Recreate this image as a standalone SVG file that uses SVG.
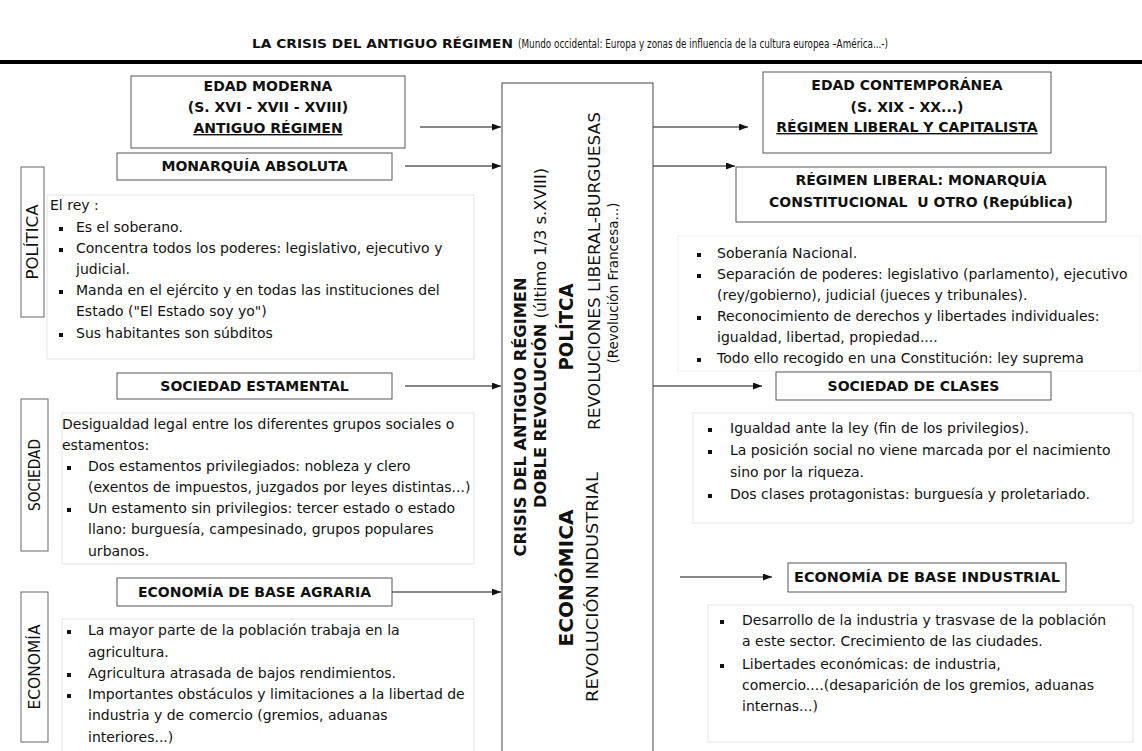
<svg xmlns="http://www.w3.org/2000/svg" width="1142" height="751" viewBox="0 0 1142 751">
<defs>
<style>
text{font-family:"DejaVu Sans","Liberation Sans",sans-serif;fill:#111}
.h{font-size:14px;font-weight:bold;text-anchor:middle}
.t{font-size:14px}
.box{fill:#fff;stroke:#555;stroke-width:1}
.cbox{fill:#fff;stroke:#e3e3e3;stroke-width:1}
.lbl{fill:#fff;stroke:#666;stroke-width:1}
.lt{font-size:15px;text-anchor:middle}
.conn line{stroke:#111;stroke-width:1.2;marker-end:url(#ah)}
.b{fill:#111}
.ct{text-anchor:middle}
</style>
<marker id="ah" markerUnits="userSpaceOnUse" markerWidth="9" markerHeight="7" refX="9" refY="3.5" orient="auto">
<path d="M0,0 L9,3.5 L0,7 z" fill="#111"/>
</marker>
</defs>
<rect width="1142" height="751" fill="#fff"/>

<g id="title">
<text x="252" y="48" font-size="12" font-weight="bold" textLength="261" lengthAdjust="spacingAndGlyphs">LA CRISIS DEL ANTIGUO RÉGIMEN</text>
<text x="518" y="48" font-size="11.5" textLength="370" lengthAdjust="spacingAndGlyphs">(Mundo occidental: Europa y zonas de influencia de la cultura europea –América...-)</text>
<line x1="0" y1="62" x2="1142" y2="62" stroke="#000" stroke-width="4"/>
</g>

<g id="connectors" class="conn">
<line x1="420" y1="127" x2="501" y2="127"/>
<line x1="405" y1="166" x2="501" y2="166"/>
<line x1="405" y1="386" x2="501" y2="386"/>
<line x1="392" y1="592" x2="501" y2="592"/>
<line x1="653" y1="127" x2="748" y2="127"/>
<line x1="653" y1="166" x2="735" y2="166"/>
<line x1="653" y1="386" x2="762" y2="386"/>
<line x1="680" y1="577" x2="772" y2="577"/>
</g>

<g id="edad-moderna">
<rect class="box" x="131" y="76" width="274" height="72"/>
<text class="h" x="268" y="91">EDAD MODERNA</text>
<text class="h" x="268" y="112">(S. XVI - XVII - XVIII)</text>
<text class="h" x="268" y="133" text-decoration="underline">ANTIGUO RÉGIMEN</text>
</g>

<g id="monarquia-absoluta">
<rect class="box" x="117" y="153" width="275" height="27"/>
<text class="h" x="254.5" y="171">MONARQUÍA ABSOLUTA</text>
</g>

<g id="label-politica">
<rect class="lbl" x="21" y="167" width="23" height="150"/>
<text class="lt" transform="translate(38,242) rotate(-90)" textLength="75" lengthAdjust="spacingAndGlyphs">POLÍTICA</text>
</g>

<g id="politica-antiguo">
<rect class="cbox" x="47" y="195" width="427" height="164"/>
<text class="t" x="50" y="210">El rey :</text>
<rect class="b" x="59" y="227" width="4" height="4"/>
<text class="t" x="76" y="232">Es el soberano.</text>
<rect class="b" x="59" y="248" width="4" height="4"/>
<text class="t" x="76" y="253">Concentra todos los poderes: legislativo, ejecutivo y</text>
<text class="t" x="76" y="274">judicial.</text>
<rect class="b" x="59" y="290" width="4" height="4"/>
<text class="t" x="76" y="295">Manda en el ejército y en todas las instituciones del</text>
<text class="t" x="76" y="316">Estado (&quot;El Estado soy yo&quot;)</text>
<rect class="b" x="59" y="333" width="4" height="4"/>
<text class="t" x="76" y="338">Sus habitantes son súbditos</text>
</g>

<g id="sociedad-estamental">
<rect class="box" x="117" y="373" width="275" height="26"/>
<text class="h" x="254.5" y="391">SOCIEDAD ESTAMENTAL</text>
</g>

<g id="label-sociedad">
<rect class="lbl" x="21" y="399" width="27" height="152"/>
<text class="lt" transform="translate(40,475) rotate(-90)" textLength="72" lengthAdjust="spacingAndGlyphs">SOCIEDAD</text>
</g>

<g id="sociedad-antiguo">
<rect class="cbox" x="62" y="413" width="412" height="151"/>
<text class="t" x="62" y="429">Desigualdad legal entre los diferentes grupos sociales o</text>
<text class="t" x="62" y="450">estamentos:</text>
<rect class="b" x="67" y="466" width="4" height="4"/>
<text class="t" x="88" y="471">Dos estamentos privilegiados: nobleza y clero</text>
<text class="t" x="88" y="492">(exentos de impuestos, juzgados por leyes distintas...)</text>
<rect class="b" x="67" y="508" width="4" height="4"/>
<text class="t" x="88" y="513">Un estamento sin privilegios: tercer estado o estado</text>
<text class="t" x="88" y="534">llano: burguesía, campesinado, grupos populares</text>
<text class="t" x="88" y="556">urbanos.</text>
</g>

<g id="economia-agraria">
<rect class="box" x="117" y="578" width="275" height="28"/>
<text class="h" x="254.5" y="597">ECONOMÍA DE BASE AGRARIA</text>
</g>

<g id="label-economia">
<rect class="lbl" x="21" y="592" width="27" height="150"/>
<text class="lt" transform="translate(40,667) rotate(-90)" textLength="85" lengthAdjust="spacingAndGlyphs">ECONOMÍA</text>
</g>

<g id="economia-antiguo">
<rect class="cbox" x="62" y="619" width="412" height="140"/>
<rect class="b" x="67" y="630" width="4" height="4"/>
<text class="t" x="88" y="635">La mayor parte de la población trabaja en la</text>
<text class="t" x="88" y="657">agricultura.</text>
<rect class="b" x="67" y="673" width="4" height="4"/>
<text class="t" x="88" y="678">Agricultura atrasada de bajos rendimientos.</text>
<rect class="b" x="67" y="694" width="4" height="4"/>
<text class="t" x="88" y="699">Importantes obstáculos y limitaciones a la libertad de</text>
<text class="t" x="88" y="720">industria y de comercio (gremios, aduanas</text>
<text class="t" x="88" y="742">interiores...)</text>
</g>

<g id="crisis-center">
<rect x="502" y="83" width="151" height="680" fill="#fff" stroke="#444" stroke-width="1"/>
<text class="ct" transform="translate(526,417) rotate(-90)" font-size="16" font-weight="bold" textLength="279" lengthAdjust="spacingAndGlyphs">CRISIS DEL ANTIGUO RÉGIMEN</text>
<text class="ct" transform="translate(546,338) rotate(-90)" font-size="16" textLength="340" lengthAdjust="spacingAndGlyphs"><tspan font-weight="bold">DOBLE REVOLUCIÓN</tspan> (último 1/3 s.XVIII)</text>
<text class="ct" transform="translate(573,327) rotate(-90)" font-size="19" font-weight="bold" textLength="87" lengthAdjust="spacingAndGlyphs">POLÍTCA</text>
<text class="ct" transform="translate(600,271) rotate(-90)" font-size="16" textLength="318" lengthAdjust="spacingAndGlyphs">REVOLUCIONES LIBERAL-BURGUESAS</text>
<text class="ct" transform="translate(618,283) rotate(-90)" font-size="14" textLength="161" lengthAdjust="spacingAndGlyphs">(Revolución Francesa...)</text>
<text class="ct" transform="translate(573,578) rotate(-90)" font-size="19" font-weight="bold" textLength="137" lengthAdjust="spacingAndGlyphs">ECONÓMICA</text>
<text class="ct" transform="translate(598,587) rotate(-90)" font-size="16" textLength="230" lengthAdjust="spacingAndGlyphs">REVOLUCIÓN INDUSTRIAL</text>
</g>

<g id="edad-contemporanea">
<rect class="box" x="763" y="72" width="288" height="81"/>
<text class="h" x="907" y="90">EDAD CONTEMPORÁNEA</text>
<text class="h" x="907" y="112">(S. XIX - XX...)</text>
<text class="h" x="907" y="132" text-decoration="underline">RÉGIMEN LIBERAL Y CAPITALISTA</text>
</g>

<g id="regimen-liberal">
<rect class="box" x="736" y="167" width="370" height="55"/>
<text class="h" x="921" y="185">RÉGIMEN LIBERAL: MONARQUÍA</text>
<text class="h" x="921" y="207" xml:space="preserve">CONSTITUCIONAL  U OTRO (República)</text>
</g>

<g id="politica-liberal">
<rect x="678" y="236" width="462" height="135" fill="none" stroke="#f0f0f0" stroke-width="1"/>
<rect class="b" x="697" y="253" width="4" height="4"/>
<text class="t" x="717" y="258">Soberanía Nacional.</text>
<rect class="b" x="697" y="274" width="4" height="4"/>
<text class="t" x="717" y="279">Separación de poderes: legislativo (parlamento), ejecutivo</text>
<text class="t" x="717" y="300">(rey/gobierno), judicial (jueces y tribunales).</text>
<rect class="b" x="697" y="316" width="4" height="4"/>
<text class="t" x="717" y="321">Reconocimiento de derechos y libertades individuales:</text>
<text class="t" x="717" y="342">igualdad, libertad, propiedad....</text>
<rect class="b" x="697" y="358" width="4" height="4"/>
<text class="t" x="717" y="363">Todo ello recogido en una Constitución: ley suprema</text>
</g>

<g id="sociedad-clases">
<rect class="box" x="776" y="372" width="275" height="28"/>
<text class="h" x="913.5" y="391">SOCIEDAD DE CLASES</text>
</g>

<g id="sociedad-liberal">
<rect class="cbox" x="693" y="413" width="440" height="110"/>
<rect class="b" x="708" y="428" width="4" height="4"/>
<text class="t" x="730" y="433">Igualdad ante la ley (fin de los privilegios).</text>
<rect class="b" x="708" y="450" width="4" height="4"/>
<text class="t" x="730" y="455">La posición social no viene marcada por el nacimiento</text>
<text class="t" x="730" y="477">sino por la riqueza.</text>
<rect class="b" x="708" y="494" width="4" height="4"/>
<text class="t" x="730" y="499">Dos clases protagonistas: burguesía y proletariado.</text>
</g>

<g id="economia-industrial">
<rect class="box" x="788" y="563" width="278" height="29"/>
<text x="794" y="582" font-size="14" font-weight="bold" textLength="266" lengthAdjust="spacingAndGlyphs">ECONOMÍA DE BASE INDUSTRIAL</text>
</g>

<g id="economia-liberal">
<rect class="cbox" x="708" y="605" width="425" height="137"/>
<rect class="b" x="720" y="620" width="4" height="4"/>
<text class="t" x="742" y="625">Desarrollo de la industria y trasvase de la población</text>
<text class="t" x="742" y="646">a este sector. Crecimiento de las ciudades.</text>
<rect class="b" x="720" y="664" width="4" height="4"/>
<text class="t" x="742" y="669">Libertades económicas: de industria,</text>
<text class="t" x="742" y="690">comercio....(desaparición de los gremios, aduanas</text>
<text class="t" x="742" y="711">internas...)</text>
</g>
</svg>
